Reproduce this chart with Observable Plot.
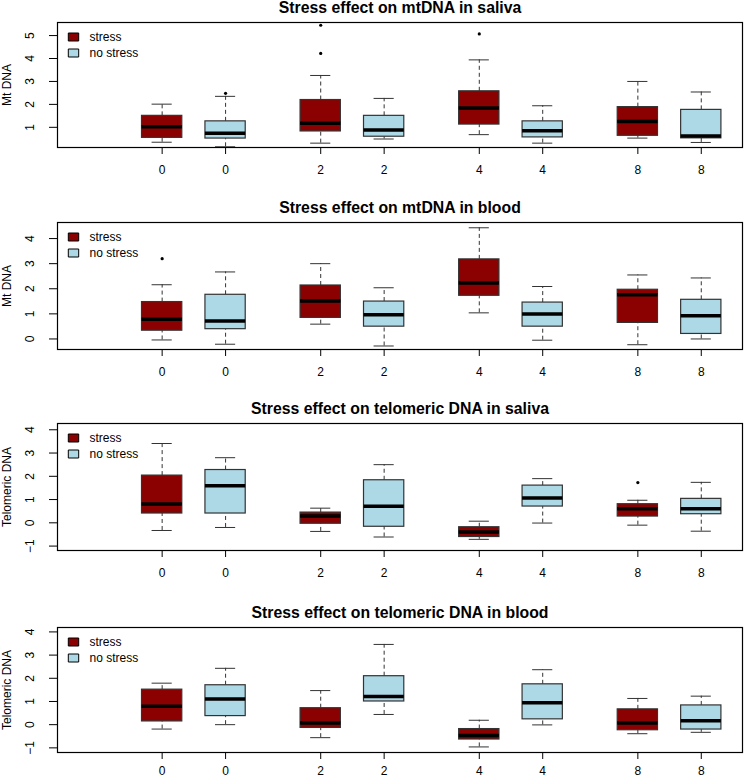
<!DOCTYPE html>
<html><head><meta charset="utf-8">
<script src="https://cdn.jsdelivr.net/npm/d3@7"></script>
<script src="https://cdn.jsdelivr.net/npm/@observablehq/plot@0.6"></script>
<style>
body{margin:0;background:#fff}
#chart{width:744px}
#chart svg{display:block;overflow:visible}
</style>
</head><body><div id="chart"></div>
<script>
// ---- shared categories ----
const positions = [1, 2, 3.5, 4.5, 6, 7, 8.5, 9.5];
const dayLabels = ["0", "0", "2", "2", "4", "4", "8", "8"];
const groups = ["stress", "no stress", "stress", "no stress", "stress", "no stress", "stress", "no stress"];
const groupNames = ["stress", "no stress"];
const groupColors = ["#8B0000", "#ADD8E6"];

// ---- Panel 1: mtDNA in saliva ----
const mtSalivaLow    = [0.35, 0.15, 0.31, 0.49, 0.68, 0.31, 0.53, 0.34];
const mtSalivaQ1     = [0.54, 0.51, 0.82, 0.59, 1.12, 0.56, 0.63, 0.52];
const mtSalivaMedian = [1.03, 0.74, 1.18, 0.88, 1.84, 0.85, 1.25, 0.62];
const mtSalivaQ3     = [1.50, 1.26, 2.19, 1.50, 2.57, 1.26, 1.88, 1.76];
const mtSalivaHigh   = [2.01, 2.35, 3.26, 2.26, 3.94, 1.94, 3.00, 2.54];
const mtSalivaOutBox = [1, 2, 2, 4];
const mtSalivaOutVal = [2.48, 5.45, 4.22, 5.07];

// ---- Panel 2: mtDNA in blood ----
const mtBloodLow    = [-0.04, -0.21, 0.59, -0.28, 1.04, -0.05, -0.23, 0.00];
const mtBloodQ1     = [0.33, 0.39, 0.84, 0.49, 1.72, 0.49, 0.64, 0.20];
const mtBloodMedian = [0.79, 0.72, 1.51, 0.96, 2.23, 0.99, 1.76, 0.92];
const mtBloodQ3     = [1.47, 1.76, 2.13, 1.49, 3.17, 1.45, 1.96, 1.56];
const mtBloodHigh   = [2.16, 2.67, 3.00, 2.04, 4.43, 2.09, 2.55, 2.43];
const mtBloodOutBox = [0];
const mtBloodOutVal = [3.20];

// ---- Panel 3: telomeric DNA in saliva ----
const telSalivaLow    = [-0.33, -0.20, -0.37, -0.61, -0.71, -0.01, -0.10, -0.36];
const telSalivaQ1     = [0.40, 0.40, -0.04, -0.17, -0.61, 0.70, 0.27, 0.37];
const telSalivaMedian = [0.81, 1.59, 0.29, 0.71, -0.40, 1.07, 0.60, 0.60];
const telSalivaQ3     = [2.03, 2.27, 0.44, 1.83, -0.19, 1.60, 0.80, 1.03];
const telSalivaHigh   = [3.41, 2.80, 0.63, 2.50, 0.07, 1.90, 0.97, 1.74];
const telSalivaOutBox = [6];
const telSalivaOutVal = [1.73];

// ---- Panel 4: telomeric DNA in blood ----
const telBloodLow    = [-0.19, 0.00, -0.56, 0.44, -0.96, -0.01, -0.39, -0.33];
const telBloodQ1     = [0.14, 0.37, -0.14, 1.00, -0.64, 0.23, -0.24, -0.21];
const telBloodMedian = [0.79, 1.11, 0.07, 1.21, -0.47, 0.94, 0.07, 0.17];
const telBloodQ3     = [1.51, 1.70, 0.71, 2.09, -0.19, 1.74, 0.66, 0.83];
const telBloodHigh   = [1.79, 2.43, 1.47, 3.46, 0.19, 2.37, 1.13, 1.23];
const telBloodOutBox = [];
const telBloodOutVal = [];

const boxWidth = 0.635;
const legendBox = {draw(ctx) { ctx.rect(-5.2, -4, 10.4, 8); }};
const fmt = d => d < 0 ? "\u2212" + Math.abs(d) : String(d);

function panel(o) {
  const boxes = positions.map((p, i) => ({
    pos: p, group: groups[i],
    low: o.low[i], q1: o.q1[i], med: o.med[i], q3: o.q3[i], high: o.high[i]
  }));
  const outs = o.outBox.map((b, i) => ({pos: positions[b], value: o.outVal[i]}));
  const hw = boxWidth / 2, cw = boxWidth / 4;
  const grey = "#333";
  return Plot.plot({
    width: 744, height: o.height,
    marginTop: o.marginTop, marginBottom: o.marginBottom, marginLeft: 57, marginRight: 2,
    x: {domain: [-0.65, 10.15], label: null},
    y: {domain: o.yDomain, label: null},
    color: {domain: groupNames, range: groupColors},
    style: {fontFamily: "'Liberation Sans', Arial, sans-serif", fontSize: "12px", color: "black", background: "white"},
    marks: [
      Plot.ruleX(boxes, {x: "pos", y1: "q3", y2: "high", stroke: grey, strokeDasharray: "4,3"}),
      Plot.ruleX(boxes, {x: "pos", y1: "low", y2: "q1", stroke: grey, strokeDasharray: "4,3"}),
      Plot.ruleY(boxes, {y: "high", x1: d => d.pos - cw, x2: d => d.pos + cw, stroke: grey}),
      Plot.ruleY(boxes, {y: "low", x1: d => d.pos - cw, x2: d => d.pos + cw, stroke: grey}),
      Plot.rect(boxes, {x1: d => d.pos - hw, x2: d => d.pos + hw, y1: "q1", y2: "q3", fill: "group", stroke: grey, strokeWidth: 1.2}),
      Plot.ruleY(boxes, {y: "med", x1: d => d.pos - hw, x2: d => d.pos + hw, stroke: "black", strokeWidth: 3.5}),
      Plot.dot(outs, {x: "pos", y: "value", r: 1.6, fill: "black", stroke: null}),
      Plot.frame({stroke: "black", strokeWidth: 1.2}),
      Plot.axisX({ticks: positions, tickSize: 7, tickFormat: () => "", label: null, stroke: "black"}),
      Plot.text(positions, {x: d => d, frameAnchor: "bottom", dy: o.xLabelDy, lineAnchor: "middle", text: (d, i) => dayLabels[i], fontSize: 12}),
      Plot.axisY({ticks: o.yTicks, tickSize: 8, tickFormat: () => "", label: null, anchor: "left", stroke: "black"}),
      Plot.text(o.yTicks, {y: d => d, frameAnchor: "left", dx: -27, rotate: -90, textAnchor: "middle", lineAnchor: "middle", text: fmt, fontSize: 12}),
      Plot.text([o.ylabel], {frameAnchor: "left", dx: -50, rotate: -90, textAnchor: "middle", lineAnchor: "middle", text: d => d, fontSize: 12}),
      Plot.text([o.title], {frameAnchor: "top", dy: -14.5, lineAnchor: "middle", text: d => d, fontSize: 15.8, fontWeight: "bold"}),
      Plot.dot([groupNames[0]], {frameAnchor: "top-left", dx: 16, dy: 14.5, symbol: legendBox, fill: groupColors[0], stroke: "black", strokeWidth: 1}),
      Plot.dot([groupNames[1]], {frameAnchor: "top-left", dx: 16, dy: 30.5, symbol: legendBox, fill: groupColors[1], stroke: "black", strokeWidth: 1}),
      Plot.text([groupNames[0]], {frameAnchor: "top-left", dx: 32, dy: 14.5, textAnchor: "start", lineAnchor: "middle", text: d => d, fontSize: 12}),
      Plot.text([groupNames[1]], {frameAnchor: "top-left", dx: 32, dy: 30.5, textAnchor: "start", lineAnchor: "middle", text: d => d, fontSize: 12})
    ]
  });
}

const chart = document.getElementById("chart");
chart.append(panel({
  title: "Stress effect on mtDNA in saliva", ylabel: "Mt DNA",
  yDomain: [0.12, 5.57], yTicks: [1, 2, 3, 4, 5],
  low: mtSalivaLow, q1: mtSalivaQ1, med: mtSalivaMedian, q3: mtSalivaQ3, high: mtSalivaHigh,
  outBox: mtSalivaOutBox, outVal: mtSalivaOutVal,
  height: 200, marginTop: 22, marginBottom: 53, xLabelDy: 23
}));
chart.append(panel({
  title: "Stress effect on mtDNA in blood", ylabel: "Mt DNA",
  yDomain: [-0.42, 4.64], yTicks: [0, 1, 2, 3, 4],
  low: mtBloodLow, q1: mtBloodQ1, med: mtBloodMedian, q3: mtBloodQ3, high: mtBloodHigh,
  outBox: mtBloodOutBox, outVal: mtBloodOutVal,
  height: 202, marginTop: 22, marginBottom: 53, xLabelDy: 23
}));
chart.append(panel({
  title: "Stress effect on telomeric DNA in saliva", ylabel: "Telomeric DNA",
  yDomain: [-1.19, 4.27], yTicks: [-1, 0, 1, 2, 3, 4],
  low: telSalivaLow, q1: telSalivaQ1, med: telSalivaMedian, q3: telSalivaQ3, high: telSalivaHigh,
  outBox: telSalivaOutBox, outVal: telSalivaOutVal,
  height: 202, marginTop: 21, marginBottom: 54, xLabelDy: 23
}));
chart.append(panel({
  title: "Stress effect on telomeric DNA in blood", ylabel: "Telomeric DNA",
  yDomain: [-1.2, 4.19], yTicks: [-1, 0, 1, 2, 3, 4],
  low: telBloodLow, q1: telBloodQ1, med: telBloodMedian, q3: telBloodQ3, high: telBloodHigh,
  outBox: telBloodOutBox, outVal: telBloodOutVal,
  height: 176, marginTop: 23, marginBottom: 28, xLabelDy: 19
}));
</script>
</body></html>
